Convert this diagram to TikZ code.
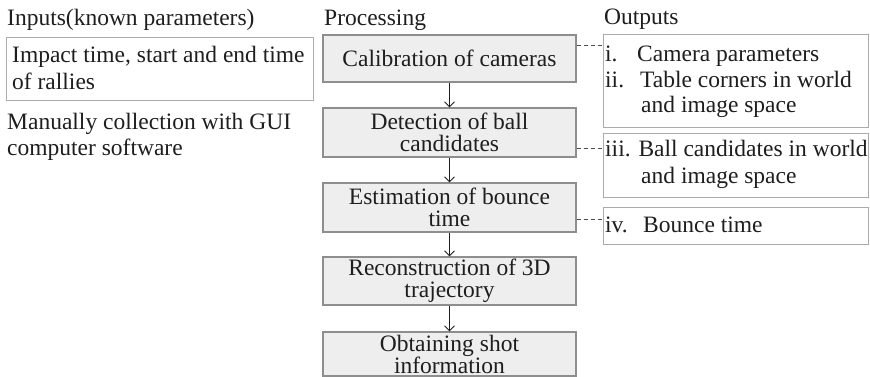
\documentclass[tikz,border=0pt]{standalone}
\usepackage{fontspec}
\setmainfont{Liberation Serif}
\usetikzlibrary{arrows.meta,calc}
\definecolor{txt}{HTML}{1E1E1E}
\definecolor{pborder}{HTML}{8E8E8E}
\definecolor{pfill}{HTML}{EEEEEE}
\definecolor{oborder}{HTML}{ABABAB}
\tikzset{
  every node/.style={text=txt},
  big/.style={font=\fontsize{23.5}{22}\selectfont},
  lbl/.style={big, anchor=base west, inner sep=0pt},
  procbox/.style={draw=pborder, fill=pfill, line width=1.1pt, minimum width=253pt,
     minimum height=48pt, inner sep=0pt, align=center, big},
  outbox/.style={draw=oborder, line width=1.1pt, inner sep=0pt, anchor=north west},
  arr/.style={draw=txt, line width=0.9pt, -{Straight Barb[length=5pt,width=10pt,line width=0.9pt]}},
  dashln/.style={draw=txt!80, line width=0.8pt, dash pattern=on 4pt off 3pt},
}
\begin{document}
\begin{tikzpicture}[x=1pt,y=-1pt]
\useasboundingbox (0,0) rectangle (870,377);
% titles
\node[lbl] (tin) at (7,26) {Inputs(known parameters)};
\node[lbl] (tproc) at (324,26) {Processing};
\node[lbl] (tout) at (604,25) {Outputs};
% input box
\node[outbox, minimum width=307pt, minimum height=63pt] (inbox) at (6,37) {};
\node[lbl] (in1) at (12,63) {Impact time, start and end time};
\node[lbl] (in2) at (12,90) {of rallies};
\node[lbl] (man1) at (7,130) {Manually collection with GUI};
\node[lbl] (man2) at (7,155) {computer software};
% processing boxes
\node[procbox, minimum height=47pt] (p1) at (449.5,58.5) {Calibration of cameras};
\node[procbox, minimum height=49pt] (p2) at (449.5,132.5) {Detection of ball\\candidates};
\node[procbox, minimum height=49pt] (p3) at (449.5,207.5) {Estimation of bounce\\time};
\node[procbox, minimum height=48pt] (p4) at (449.5,281) {Reconstruction of 3D\\trajectory};
\node[procbox, minimum height=44pt] (p5) at (449.5,354) {Obtaining shot\\information};
\draw[arr] (p1) -- (p2);
\draw[arr] (p2) -- (p3);
\draw[arr] (p3) -- (p4);
\draw[arr] (p4) -- (p5);
% output boxes
\node[outbox, minimum width=265pt, minimum height=93pt] (o1) at (603,34) {};
\node[outbox, minimum width=265pt, minimum height=64pt] (o2) at (603,133) {};
\node[outbox, minimum width=265pt, minimum height=37pt] (o3) at (603,207) {};
\node[lbl] (o1a) at (605,62) {i.};
\node[lbl] (o1b) at (637,62) {Camera parameters};
\node[lbl] (o1c) at (605,88) {ii.};
\node[lbl] (o1d) at (640,88) {Table corners in world};
\node[lbl] (o1e) at (641,113) {and image space};
\node[lbl] (o2a) at (605,157) {iii. Ball candidates in world};
\node[lbl] (o2b) at (641,183) {and image space};
\node[lbl] (o3a) at (605,232) {iv.};
\node[lbl] (o3b) at (643,232) {Bounce time};
% dashed connectors
\coordinate (d1) at ($(p1.north east)+(0,11)$);
\coordinate (d2) at ($(p2.south east)+(0,-9)$);
\coordinate (d3) at ($(p3.south east)+(0,-13)$);
\draw[dashln] (d1) -- (d1 -| o1.west);
\draw[dashln] (d2) -- (d2 -| o2.west);
\draw[dashln] (d3) -- (d3 -| o3.west);
\end{tikzpicture}
\end{document}
